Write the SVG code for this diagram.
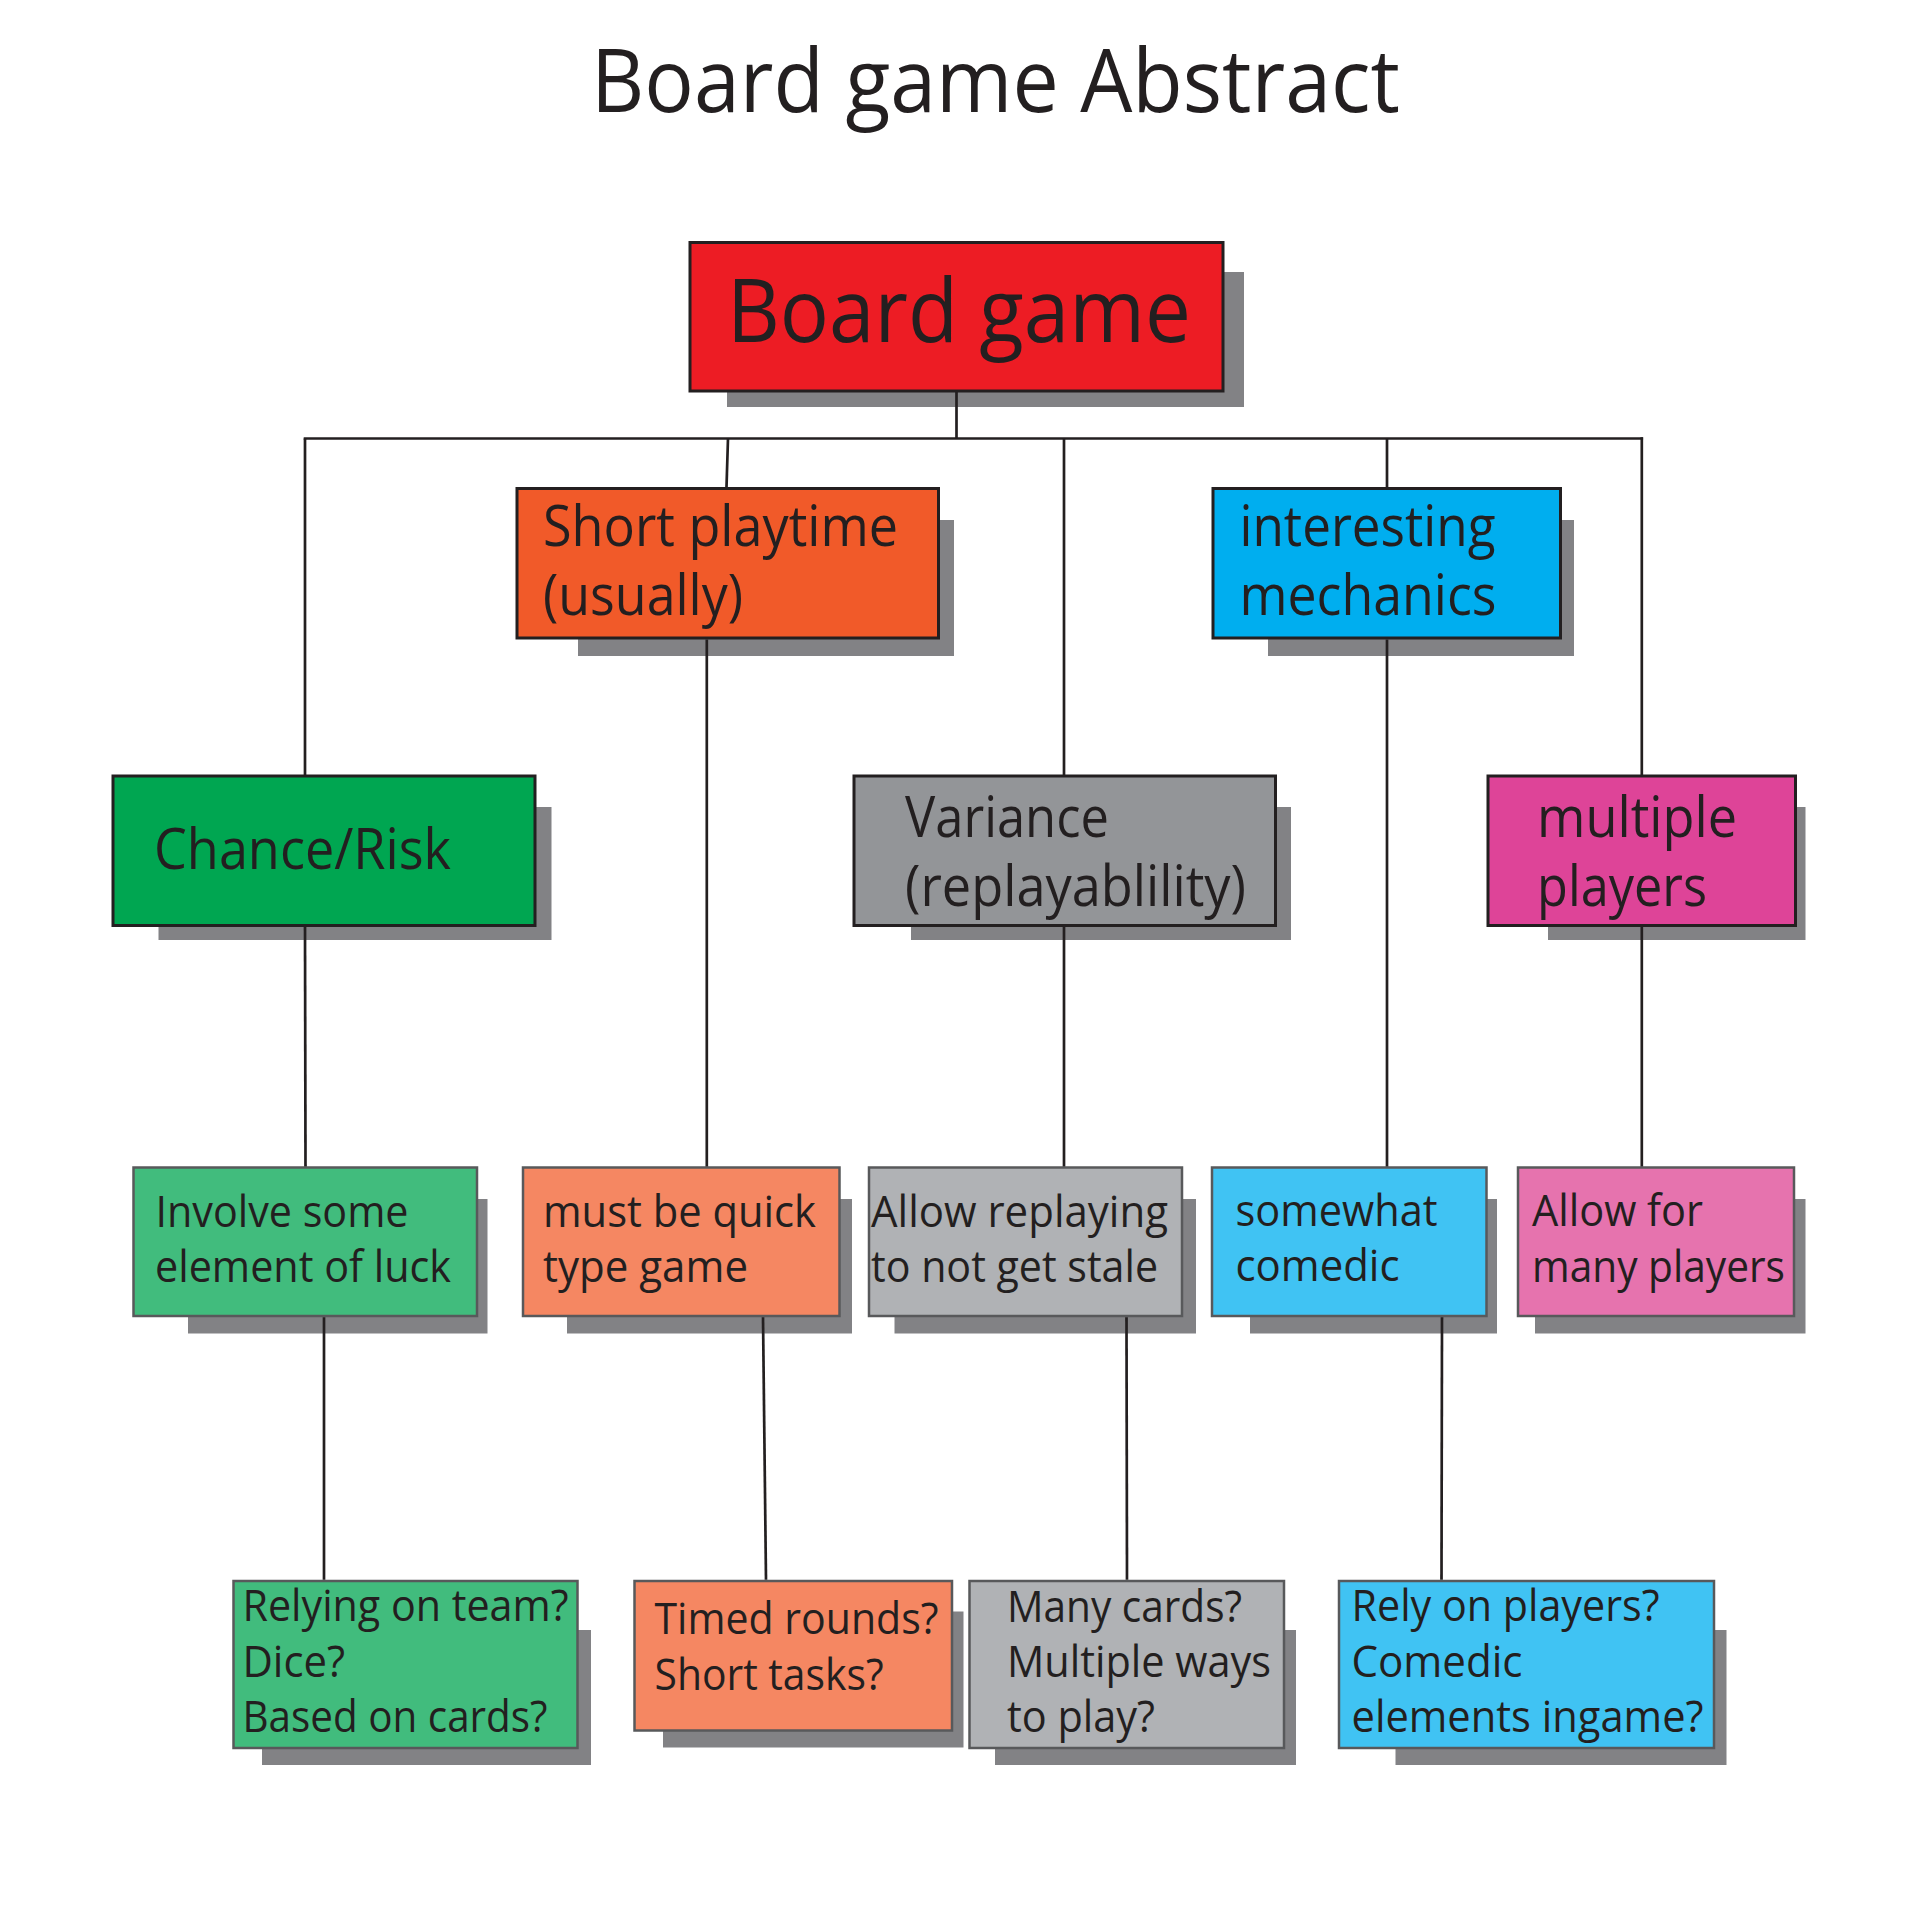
<svg xmlns="http://www.w3.org/2000/svg" width="1920" height="1920" viewBox="0 0 1920 1920">
<style>
text{font-family:"Open Sans","Noto Sans","Liberation Sans",sans-serif;fill:#231f20}
.t0{font-size:87px}
.t1{font-size:56px}
.t3{font-size:44px}
.sh{fill:#828285}
.b1{stroke:#231f20;stroke-width:3}
.b3{stroke:#58595b;stroke-width:2.5}
.c line{stroke:#231f20;stroke-width:2.7;fill:none}
</style>
<rect width="1920" height="1920" fill="#ffffff"/>
<text id="title" class="t0" x="591" y="112" textLength="809" lengthAdjust="spacingAndGlyphs">Board game Abstract</text>

<g id="n-board">
<rect class="sh" x="727" y="272" width="517" height="135"/>
<rect class="b1" x="690" y="242.5" width="533" height="148.5" fill="#ed1c24"/>
<text class="t0" x="727" y="342" textLength="464" lengthAdjust="spacingAndGlyphs">Board game</text>
</g>

<g id="n-short">
<rect class="sh" x="578" y="520" width="376" height="136"/>
<rect class="b1" x="517" y="488.5" width="421.5" height="149.5" fill="#f15a29"/>
<text class="t1" x="543" y="546" textLength="355" lengthAdjust="spacingAndGlyphs">Short playtime</text>
<text class="t1" x="543" y="615" textLength="200" lengthAdjust="spacingAndGlyphs">(usually)</text>
</g>

<g id="n-interesting">
<rect class="sh" x="1268" y="520" width="306" height="136"/>
<rect class="b1" x="1213" y="488.5" width="347.5" height="149.5" fill="#00aeef"/>
<text class="t1" x="1239.5" y="546" textLength="256" lengthAdjust="spacingAndGlyphs">interesting</text>
<text class="t1" x="1239.5" y="614.5" textLength="257" lengthAdjust="spacingAndGlyphs">mechanics</text>
</g>

<g id="n-chance">
<rect class="sh" x="158.5" y="807" width="393" height="133"/>
<rect class="b1" x="113" y="776" width="422" height="149.5" fill="#00a651"/>
<text class="t1" x="154" y="869" textLength="297" lengthAdjust="spacingAndGlyphs">Chance/Risk</text>
</g>

<g id="n-variance">
<rect class="sh" x="911" y="807" width="380" height="133"/>
<rect class="b1" x="854" y="776" width="421.5" height="149.5" fill="#939598"/>
<text class="t1" x="905" y="837" textLength="204" lengthAdjust="spacingAndGlyphs">Variance</text>
<text class="t1" x="905" y="906" textLength="341" lengthAdjust="spacingAndGlyphs">(replayablility)</text>
</g>

<g id="n-multiple">
<rect class="sh" x="1548" y="807" width="257.5" height="133"/>
<rect class="b1" x="1488" y="776" width="307.5" height="149.5" fill="#de4498"/>
<text class="t1" x="1537" y="837" textLength="200" lengthAdjust="spacingAndGlyphs">multiple</text>
<text class="t1" x="1537" y="906" textLength="170" lengthAdjust="spacingAndGlyphs">players</text>
</g>

<g id="n-involve">
<rect class="sh" x="188" y="1199" width="299.5" height="134.5"/>
<rect class="b3" x="133.5" y="1167.5" width="343.5" height="148.5" fill="#41bc7d"/>
<text class="t3" x="155.5" y="1226.5" textLength="253" lengthAdjust="spacingAndGlyphs">Involve some</text>
<text class="t3" x="155" y="1281.5" textLength="296" lengthAdjust="spacingAndGlyphs">element of luck</text>
</g>

<g id="n-quick">
<rect class="sh" x="567" y="1199" width="285" height="134.5"/>
<rect class="b3" x="523" y="1167.5" width="316.5" height="148.5" fill="#f58762"/>
<text class="t3" x="543" y="1226.5" textLength="273" lengthAdjust="spacingAndGlyphs">must be quick</text>
<text class="t3" x="543" y="1281.5" textLength="205" lengthAdjust="spacingAndGlyphs">type game</text>
</g>

<g id="n-replay">
<rect class="sh" x="894.5" y="1199" width="301.5" height="134.5"/>
<rect class="b3" x="869" y="1167.5" width="313" height="148.5" fill="#b0b2b5"/>
<text class="t3" x="871" y="1226.5" textLength="297" lengthAdjust="spacingAndGlyphs">Allow replaying</text>
<text class="t3" x="871" y="1281.5" textLength="287" lengthAdjust="spacingAndGlyphs">to not get stale</text>
</g>

<g id="n-comedic">
<rect class="sh" x="1250" y="1199" width="247" height="134.5"/>
<rect class="b3" x="1212" y="1167.5" width="274.5" height="148.5" fill="#40c3f3"/>
<text class="t3" x="1235.5" y="1225.5" textLength="202" lengthAdjust="spacingAndGlyphs">somewhat</text>
<text class="t3" x="1235.5" y="1281" textLength="164" lengthAdjust="spacingAndGlyphs">comedic</text>
</g>

<g id="n-many">
<rect class="sh" x="1535" y="1199" width="270.5" height="134.5"/>
<rect class="b3" x="1518" y="1167.5" width="276" height="148.5" fill="#e673ae"/>
<text class="t3" x="1532" y="1226" textLength="171" lengthAdjust="spacingAndGlyphs">Allow for</text>
<text class="t3" x="1532" y="1281.5" textLength="253" lengthAdjust="spacingAndGlyphs">many players</text>
</g>

<g id="n-relying">
<rect class="sh" x="262" y="1630" width="329" height="135"/>
<rect class="b3" x="233.5" y="1581" width="344" height="167" fill="#41bc7d"/>
<text class="t3" x="242.5" y="1621" textLength="326" lengthAdjust="spacingAndGlyphs">Relying on team?</text>
<text class="t3" x="242.5" y="1677" textLength="102.5" lengthAdjust="spacingAndGlyphs">Dice?</text>
<text class="t3" x="242.5" y="1732" textLength="305" lengthAdjust="spacingAndGlyphs">Based on cards?</text>
</g>

<g id="n-timed">
<rect class="sh" x="663" y="1611.5" width="300.5" height="136"/>
<rect class="b3" x="634.5" y="1581" width="317.5" height="149.5" fill="#f58762"/>
<text class="t3" x="654.5" y="1634" textLength="284" lengthAdjust="spacingAndGlyphs">Timed rounds?</text>
<text class="t3" x="654.5" y="1689.5" textLength="229" lengthAdjust="spacingAndGlyphs">Short tasks?</text>
</g>

<g id="n-cards">
<rect class="sh" x="995" y="1630" width="301" height="135"/>
<rect class="b3" x="969.5" y="1581" width="314.5" height="167" fill="#b0b2b5"/>
<text class="t3" x="1007" y="1621.5" textLength="235" lengthAdjust="spacingAndGlyphs">Many cards?</text>
<text class="t3" x="1007" y="1677" textLength="264" lengthAdjust="spacingAndGlyphs">Multiple ways</text>
<text class="t3" x="1007" y="1732" textLength="148" lengthAdjust="spacingAndGlyphs">to play?</text>
</g>

<g id="n-rely">
<rect class="sh" x="1395.5" y="1630" width="331" height="135"/>
<rect class="b3" x="1339" y="1581" width="375" height="167" fill="#40c3f3"/>
<text class="t3" x="1351.5" y="1621" textLength="308" lengthAdjust="spacingAndGlyphs">Rely on players?</text>
<text class="t3" x="1351.5" y="1677" textLength="171" lengthAdjust="spacingAndGlyphs">Comedic</text>
<text class="t3" x="1351.5" y="1732" textLength="352" lengthAdjust="spacingAndGlyphs">elements ingame?</text>
</g>

<g id="connectors" class="c">
<line x1="956.5" y1="392" x2="956.5" y2="438.5"/>
<line x1="303.7" y1="438.5" x2="1643.1" y2="438.5"/>
<line x1="305" y1="438.5" x2="305" y2="775"/>
<line x1="728" y1="438.5" x2="726.5" y2="487"/>
<line x1="1064" y1="438.5" x2="1064" y2="775"/>
<line x1="1387" y1="438.5" x2="1387" y2="487"/>
<line x1="1641.8" y1="437.2" x2="1641.8" y2="775"/>
<line x1="305" y1="927" x2="305.5" y2="1166.5"/>
<line x1="706.8" y1="639.5" x2="706.8" y2="1166.5"/>
<line x1="1064" y1="927" x2="1064" y2="1166.5"/>
<line x1="1387" y1="639.5" x2="1387" y2="1166.5"/>
<line x1="1641.8" y1="927" x2="1641.8" y2="1166.5"/>
<line x1="324" y1="1317.3" x2="324" y2="1579.8"/>
<line x1="763" y1="1317.3" x2="766" y2="1579.8"/>
<line x1="1126.5" y1="1317.3" x2="1127" y2="1579.8"/>
<line x1="1442" y1="1317.3" x2="1441.5" y2="1579.8"/>
</g>
</svg>
